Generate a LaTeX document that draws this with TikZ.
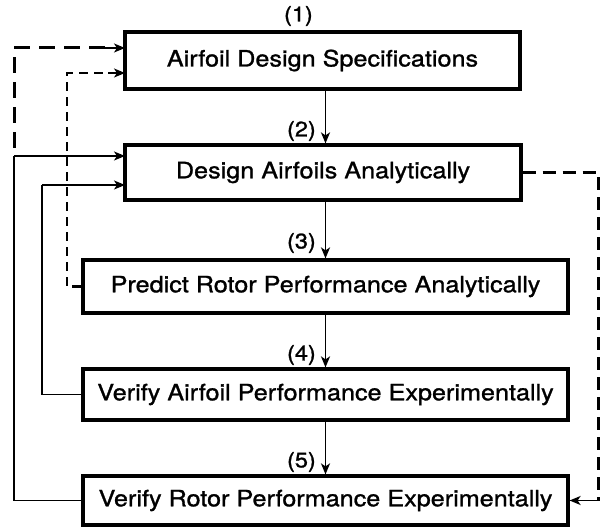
\documentclass[tikz,border=0pt]{standalone}
\usepackage{fontspec}
\setmainfont[FakeStretch=1.12,FakeBold=1.2]{TeX Gyre Heros}
\usetikzlibrary{arrows.meta}
\begin{document}
\begin{tikzpicture}[x=1pt,y=-1pt,
  box/.style={draw,line width=3.2pt,rectangle,inner sep=0pt,font=\fontsize{22.5}{25}\selectfont},
  lbl/.style={anchor=east,inner sep=0pt,font=\fontsize{21}{24}\selectfont},
  conn/.style={line width=1.8pt,-{Stealth[length=11pt,width=9pt,inset=3pt]}},
  line/.style={line width=1.8pt},
  bigdash/.style={line width=3pt,dash pattern=on 16pt off 9pt},
  middash/.style={line width=2.2pt,dash pattern=on 9pt off 6pt},
  rdash/.style={line width=3pt,dash pattern=on 13pt off 7pt}]
\useasboundingbox (0,0) rectangle (600,529);
\node[box,minimum width=395pt,minimum height=57pt] (b1) at (322.5,60.5) {Airfoil Design Specifications};
\node[box,minimum width=396pt,minimum height=55pt] (b2) at (323,172.5) {Design Airfoils Analytically};
\node[box,minimum width=485pt,minimum height=53pt] (b3) at (325.5,286.5) {Predict Rotor Performance Analytically};
\node[box,minimum width=485pt,minimum height=51pt] (b4) at (325.5,394.5) {Verify Airfoil Performance Experimentally};
\node[box,minimum width=485pt,minimum height=49pt] (b5) at (325.5,500.5) {Verify Rotor Performance Experimentally};
\node[lbl] (l1) at (313,16) {(1)};
\node[lbl] (l2) at (316,131) {(2)};
\node[lbl] (l3) at (316,243) {(3)};
\node[lbl] (l4) at (316,355) {(4)};
\node[lbl] (l5) at (316,462) {(5)};
% main flow
\draw[conn] (b1.south -| b3.north) -- (b2.north -| b3.north);
\draw[conn] (b2.south -| b3.north) -- (b3.north);
\draw[conn] (b3.south) -- (b4.north);
\draw[conn] (b4.south) -- (b5.north);
% left feedback lines
\coordinate (s2) at (125,156);
\coordinate (s2b) at (125,185);
\coordinate (t1a) at (125,48);
\coordinate (t1b) at (125,73);
\coordinate (jA) at (14,148);
\draw[line] (b5.west) -| (14,156);
\draw[conn] (14,156) -- (s2);
\draw[bigdash] (jA) -- (14,48) -- (105,48);
\draw[conn] (105,48) -- (t1a);
\draw[middash] (b3.west) -| (67,73) -- (108,73);
\draw[conn] (108,73) -- (t1b);
\draw[line] (b4.west) -| (42,185);
\draw[conn] (42,185) -- (s2b);
% right dashed
\coordinate (rc) at (598,500.5);
\draw[rdash] (b2.east) -| (rc);
\draw[conn] (rc) -- (b5.east);
\end{tikzpicture}
\end{document}
